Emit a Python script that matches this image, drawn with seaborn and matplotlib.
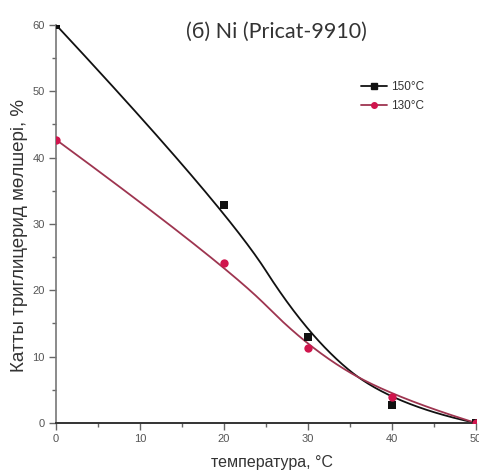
import numpy as np
import pandas as pd
import matplotlib
matplotlib.use('Agg')
import matplotlib.pyplot as plt
import seaborn as sns
from matplotlib.lines import Line2D

# data
temp = [0, 20, 30, 40, 50]
y150 = [60.0, 32.8, 13.0, 2.7, 0.0]
y130 = [42.7, 24.1, 11.3, 3.9, 0.0]
labels = ['150°C', '130°C']
mark_col = {'150°C': '#111111', '130°C': '#d0154d'}
line_col = {'150°C': '#111111', '130°C': '#9e3550'}
mark_shape = {'150°C': 's', '130°C': 'o'}

sns.set_style('white')
plt.rcParams['font.family'] = ['Liberation Sans Narrow', 'Liberation Sans', 'DejaVu Sans']


def basis(i, k, t, knots):
    # Cox-de Boor recursion
    if k == 0:
        return ((knots[i] <= t) & (t < knots[i + 1])).astype(float)
    out = np.zeros_like(t)
    d1 = knots[i + k] - knots[i]
    d2 = knots[i + k + 1] - knots[i + 1]
    if d1 > 0:
        out += (t - knots[i]) / d1 * basis(i, k - 1, t, knots)
    if d2 > 0:
        out += (knots[i + k + 1] - t) / d2 * basis(i + 1, k - 1, t, knots)
    return out


def bspline(cx, cy, k=2, n=300):
    # B-spline line connection of the points (as Origin draws it)
    m = len(cx)
    inner = np.linspace(0, 1, m - k + 1)[1:-1]
    knots = np.r_[[0.0] * (k + 1), inner, [1.0] * (k + 1)]
    t = np.linspace(0, 1 - 1e-9, n)
    B = np.array([basis(i, k, t, knots) for i in range(m)])
    return B.T @ np.asarray(cx, float), B.T @ np.asarray(cy, float)


pts = pd.DataFrame({'temp': temp * 2, 'val': y150 + y130,
                    'series': [labels[0]] * 5 + [labels[1]] * 5})

fit_rows = []
for lab, ys in zip(labels, [y150, y130]):
    bx, by = bspline(temp, ys)
    fit_rows.append(pd.DataFrame({'temp': bx, 'val': by, 'series': lab}))
fit = pd.concat(fit_rows, ignore_index=True)

fig = plt.figure(figsize=(4.79, 4.70), dpi=100)
ax = fig.add_axes([0.117, 0.1, 0.877, 0.847])

sns.lineplot(data=fit, x='temp', y='val', hue='series', palette=line_col,
             linewidth=1.3, legend=False, sort=False, ax=ax)
for lab in labels:
    d = pts[pts['series'] == lab]
    sns.scatterplot(data=d, x='temp', y='val', color=mark_col[lab], marker=mark_shape[lab],
                    s=36, edgecolor=mark_col[lab], linewidth=0, ax=ax, legend=False,
                    zorder=5)

ax.set_xlim(0, 50)
ax.set_ylim(0, 60)
ax.set_xticks([0, 10, 20, 30, 40, 50])
ax.set_yticks([0, 10, 20, 30, 40, 50, 60])
ax.set_xticks([5, 15, 25, 35, 45], minor=True)
ax.set_yticks([5, 15, 25, 35, 45, 55], minor=True)
ax.tick_params(axis='both', which='major', direction='out', length=5, width=1,
               color='#666666', labelsize=8, labelcolor='#555555', pad=3,
               left=True, bottom=True)
ax.tick_params(axis='both', which='minor', direction='out', length=3, width=1,
               color='#666666', left=True, bottom=True)
sns.despine(ax=ax)
ax.spines['left'].set_color('#777777')
ax.spines['left'].set_linewidth(1.2)
ax.spines['bottom'].set_color('#333333')
ax.spines['bottom'].set_linewidth(1.4)

ax.set_xlabel('температура, °C', fontsize=11.5, color='#333333',
              family=['Liberation Sans', 'DejaVu Sans'])
ax.xaxis.set_label_coords(0.515, -0.08)
ax.set_ylabel('Катты триглицерид мөлшері, %', fontsize=13.5, color='#333333',
              family=['Liberation Sans', 'DejaVu Sans'])
ax.yaxis.set_label_coords(-0.067, 0.47)

ax.text(0.524, 0.982, '(б) Ni (Pricat-9910)', transform=ax.transAxes, ha='center', va='center',
        fontsize=15.5, color='#333333', family=['Lato', 'DejaVu Sans'])

handles = [Line2D([], [], color=line_col[l], marker=mark_shape[l], markerfacecolor=mark_col[l],
                  markeredgecolor=mark_col[l], markersize=4, linewidth=1.3) for l in labels]
ax.legend(handles, labels, loc='upper left', bbox_to_anchor=(0.7, 0.885), frameon=False,
          fontsize=8.5, handlelength=2.2, handletextpad=0.4, labelspacing=0.6,
          labelcolor='#333333')

fig.savefig('out.png', dpi=100)
